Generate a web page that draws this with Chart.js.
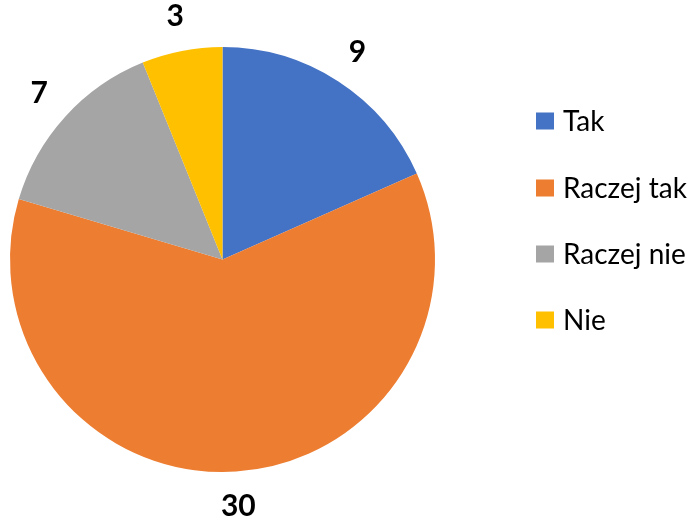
<!DOCTYPE html>
<html>
<head>
<meta charset="utf-8">
<script src="https://cdn.jsdelivr.net/npm/chart.js@4/dist/chart.umd.min.js"></script>
<style>
html,body{margin:0;padding:0;background:#fff;}
#wrap{width:700px;height:521px;position:relative;}
</style>
</head>
<body>
<div id="wrap"><canvas id="c" width="700" height="521"></canvas></div>
<script>
const categories = ["Tak", "Raczej tak", "Raczej nie", "Nie"];
const values = [9, 30, 7, 3];
const colors = ["#4472C4", "#ED7D31", "#A5A5A5", "#FFC000"];

const labelPlugin = {
  id: 'outLabels',
  afterDatasetsDraw(chart) {
    const ctx = chart.ctx;
    const meta = chart.getDatasetMeta(0);
    ctx.save();
    ctx.font = 'bold 30px Lato, "Open Sans", sans-serif';
    ctx.fillStyle = '#000';
    ctx.textAlign = 'center';
    ctx.textBaseline = 'middle';
    meta.data.forEach((arc, i) => {
      const mid = (arc.startAngle + arc.endAngle) / 2;
      const r = arc.outerRadius + 35;
      const x = arc.x + Math.cos(mid) * r;
      const y = arc.y + Math.sin(mid) * r;
      ctx.fillText(String(values[i]), x, y);
    });
    ctx.restore();
  }
};

const legendPlugin = {
  id: 'sideLegend',
  afterDraw(chart) {
    const ctx = chart.ctx;
    ctx.save();
    ctx.font = '28px Lato, "Open Sans", sans-serif';
    ctx.textAlign = 'left';
    ctx.textBaseline = 'middle';
    const ys = [121, 188, 254, 320];
    categories.forEach((c, i) => {
      ctx.fillStyle = colors[i];
      ctx.fillRect(536, ys[i] - 8.5, 18, 17);
      ctx.fillStyle = '#000';
      ctx.fillText(c, 563, ys[i] + 1);
    });
    ctx.restore();
  }
};

new Chart(document.getElementById('c'), {
  type: 'pie',
  data: {
    labels: categories,
    datasets: [{
      data: values,
      backgroundColor: colors,
      borderWidth: 0
    }]
  },
  options: {
    responsive: false,
    animation: false,
    layout: { padding: { left: 10, top: 47, right: 265, bottom: 49 } },
    plugins: {
      legend: { display: false },
      tooltip: { enabled: false }
    }
  },
  plugins: [labelPlugin, legendPlugin]
});
</script>
</body>
</html>
